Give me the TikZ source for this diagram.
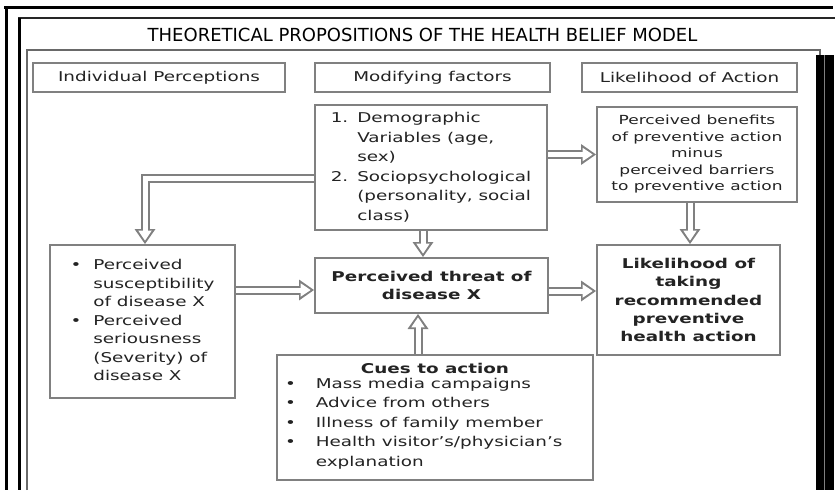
\documentclass[tikz,border=0pt]{standalone}
\usepackage{fontspec}
\setmainfont{DejaVu Sans}[FakeStretch=1.36]
\newfontfamily\titlefont{DejaVu Sans}
\usetikzlibrary{arrows.meta,backgrounds}
\definecolor{boxgray}{RGB}{128,128,128}
\definecolor{framegray}{RGB}{105,105,105}
\definecolor{inkgray}{RGB}{35,35,35}

\begin{document}
\begin{tikzpicture}[x=1pt,y=-1pt,
  box/.style={draw=boxgray, line width=2pt, fill=white, inner sep=0pt,
    text=inkgray, align=center},
  hdr/.style={box, minimum height=29pt, font=\fontsize{13.5}{16}\selectfont},
  body/.style={font=\fontsize{13.5}{#1}\selectfont},
  flow/.style={draw=boxgray, line width=9pt, line join=miter,
    -{Triangle[length=15pt,width=21pt,line width=0pt]},
    postaction={draw=white, line width=5pt, line join=miter,
      -{Triangle[length=10pt,width=13.5pt,line width=0pt]}, shorten >=3.4pt}}]
\useasboundingbox (0,0) rectangle (835,490);

% page frame
\draw[black, line width=3pt] (4,7) -- (833,7);
\draw[black, line width=3pt] (6.5,7) -- (6.5,490);
\draw[black!85, line width=1.5pt] (18,18) -- (835,18);
\draw[black, line width=3pt] (19,18) -- (19,490);
\draw[framegray, line width=2pt] (27,490) -- (27,50) -- (820,50) -- (820,490);
\fill[black] (816,55) rectangle (834,490);
\draw[boxgray, line width=1.5pt] (824.5,55) -- (824.5,490);

% title
\node[inner sep=0pt, font=\titlefont\fontsize{18}{20}\selectfont] (title) at (422.5,35)
  {THEORETICAL PROPOSITIONS OF THE HEALTH BELIEF MODEL};

% column headings
\node[hdr, minimum width=252pt] (h1) at (159,77.5) {Individual Perceptions};
\node[hdr, minimum width=235pt] (h2) at (432.5,77.5) {Modifying factors};
\node[hdr, minimum width=215pt] (h3) at (689.5,77.5) {Likelihood of Action};

% modifying factors
\node[box, body=19.5, minimum width=232pt, minimum height=125pt] (demo) at (431,167.5)
  {\begin{tabular}{@{}l@{\hspace{9pt}}l@{}}
   1. & Demographic\\
      & Variables (age,\\
      & sex)\\
   2. & Sociopsychological\\
      & (personality, social\\
      & class)
   \end{tabular}};

% benefits minus barriers
\node[box, font=\fontsize{12.5}{16.5}\selectfont, minimum width=200pt, minimum height=95pt] (bene) at (697,154.5)
  {Perceived benefits\\ of preventive action\\ minus\\ perceived barriers\\ to preventive action};

% individual perceptions
\node[box, body=18.5, minimum width=185pt, minimum height=153pt] (perc) at (142.5,321.5)
  {\begin{tabular}{@{}l@{\hspace{12pt}}l@{}}
   \textbullet & Perceived\\
               & susceptibility\\
               & of disease X\\
   \textbullet & Perceived\\
               & seriousness\\
               & (Severity) of\\
               & disease X
   \end{tabular}};

% perceived threat
\node[box, body=18, minimum width=233pt, minimum height=55pt] (threat) at (431.5,285.5)
  {\bfseries Perceived threat of\\ \bfseries disease X};

% likelihood of action
\node[box, body=18.3, minimum width=183pt, minimum height=110pt] (likely) at (688.5,300)
  {\bfseries Likelihood of\\ \bfseries taking\\ \bfseries recommended\\ \bfseries preventive\\ \bfseries health action};

% cues to action
\node[box, body=19.5, minimum width=316pt, minimum height=125pt] (cues) at (435,417.5)
  {\parbox{300pt}{\centering\bfseries Cues to action\par
   \raggedright\mdseries
   \begin{tabular}{@{}l@{\hspace{20pt}}l@{}}
   \textbullet & Mass media campaigns\\
   \textbullet & Advice from others\\
   \textbullet & Illness of family member\\
   \textbullet & Health visitor's/physician's\\
               & explanation
   \end{tabular}}};

% attachment points on the threat box
\coordinate (tin) at ([yshift=-4.5pt]threat.west);
\coordinate (tout) at ([yshift=-5.5pt]threat.east);

% connectors
\begin{pgfonlayer}{background}
\draw[flow] ([yshift=-10.5pt]demo.west) -| ([xshift=2.5pt]perc.north);
\draw[flow] (demo.east |- bene.west) -- (bene.west);
\draw[flow] ([xshift=1.5pt]likely.north |- bene.south) -- ([xshift=1.5pt]likely.north);
\draw[flow] ([xshift=-8pt]demo.south) -- ([xshift=-8pt]demo.south |- threat.north);
\draw[flow] (perc.east |- tin) -- (tin);
\draw[flow] (tout) -- (likely.west |- tout);
\draw[flow] ([xshift=-17pt]cues.north) -- ([xshift=-17pt]cues.north |- threat.south);
\end{pgfonlayer}
\end{tikzpicture}
\end{document}
